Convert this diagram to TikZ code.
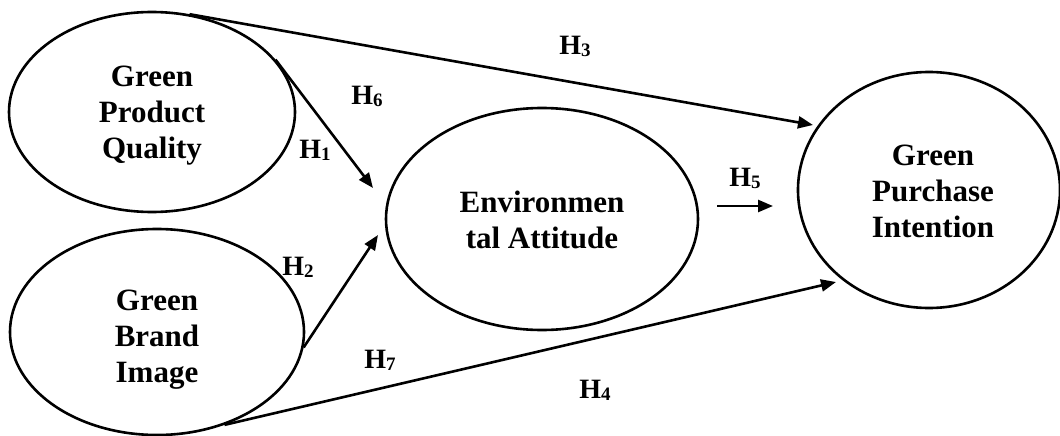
\documentclass[tikz,border=0pt]{standalone}
\usepackage{fontspec}
\setmainfont{Liberation Serif}
\usepackage{tikz}
\usetikzlibrary{shapes.geometric, arrows.meta, positioning, calc}
\tikzstyle{arrow} = [line width=2.6pt, -{Triangle[length=15pt, width=12pt]}]
\newcommand{\hsub}[1]{\raisebox{-2pt}{\fontsize{19}{19}\selectfont #1}}

\begin{document}
\begin{tikzpicture}[x=1pt, y=-1pt,
      construct/.style={ellipse, draw=black, line width=2.6pt, inner sep=0pt},
      caption/.style={align=center, inner sep=0pt, font=\fontsize{31}{36}\selectfont\bfseries},
      hyp/.style={inner sep=1pt, font=\fontsize{28}{30}\selectfont\bfseries},
    ]
    \useasboundingbox (0,0) rectangle (1060,436);

    % Constructs
    \node[construct, minimum width=286pt, minimum height=200pt] (gpq) at (152,112) {};
    \node[construct, minimum width=294pt, minimum height=206pt] (gbi) at (157,332) {};
    \node[construct, minimum width=312pt, minimum height=222pt] (ea) at (542,219) {};
    \node[construct, minimum width=262pt, minimum height=236pt] (gpi) at (929,190) {};

    \node[caption] (gpqtext) at ([yshift=-4pt]gpq.center) {Green\\Product\\Quality};
    \node[caption] (gbitext) at ([yshift=-8pt]gbi.center) {Green\\Brand\\Image};
    \node[caption] (eatext) at ([yshift=-1pt]ea.center) {Environmen\\tal Attitude};
    \node[caption] (gpitext) at ([xshift=4pt, yshift=-1pt]gpi.center) {Green\\Purchase\\Intention};

    % Arrow ends
    \coordinate (h1end) at (373,188);
    \coordinate (h2end) at (378,235);
    \coordinate (h3end) at (813,125);
    \coordinate (h4end) at (836,282);
    \coordinate (h5start) at (717,206);
    \coordinate (h5end) at (773,206);

    % Paths
    \draw[arrow] (gpq.69) -- (h3end);
    \draw[arrow] (gpq.23) -- (h1end);
    \draw[arrow] (gbi.-6) -- (h2end);
    \draw[arrow] (gbi.-54) -- (h4end);
    \draw[arrow] (h5start) -- (h5end);

    % Hypotheses
    \node[hyp] (H1) at (315,150) {H\hsub{1}};
    \node[hyp] (H2) at (298,267) {H\hsub{2}};
    \node[hyp] (H3) at (575,46) {H\hsub{3}};
    \node[hyp] (H4) at (595,390) {H\hsub{4}};
    \node[hyp] (H5) at (745,178) {H\hsub{5}};
    \node[hyp] (H6) at (367,96) {H\hsub{6}};
    \node[hyp] (H7) at (380,360) {H\hsub{7}};

  \end{tikzpicture}
\end{document}
